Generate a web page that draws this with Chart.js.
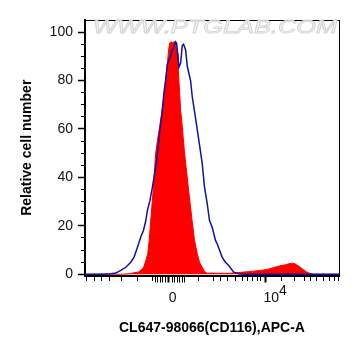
<!DOCTYPE html>
<html>
<head>
<meta charset="utf-8">
<script src="https://cdn.jsdelivr.net/npm/chart.js@4.4.1/dist/chart.umd.min.js"></script>
<style>
  html, body { margin: 0; padding: 0; background: #ffffff; }
  canvas { display: block; }
</style>
</head>
<body>
<canvas id="c" width="361" height="356"></canvas>
<script>
// Display channel positions (0..255 across the biexponential APC-A axis)
// Red filled histogram: CL647-98066 (CD116) stained sample
const sampleX = [0, 36, 44, 49, 54, 57, 59, 61, 63, 64.5, 66, 68.7, 71, 73, 75, 76.5, 77.5, 79.3, 81, 82.7, 84, 85, 86.5, 88, 89.5, 90.5, 91.5, 92.7, 93.3, 94.3, 95.3, 96, 97.5, 98.5, 100, 103.7, 107.5, 110, 112.7, 115, 117.7, 120, 122.7, 126, 136, 144, 149, 154, 159, 164, 169, 176, 183, 188, 193, 197, 201, 205, 208, 211, 214, 216, 219, 222, 225, 228, 231, 255];
const sampleY = [0, 0, 0.2, 0.6, 1.0, 2.0, 3.0, 5.5, 8.6, 14, 22, 36, 50, 56, 61, 65, 68, 73, 80, 87, 92.7, 95.5, 96, 95.6, 96, 95.8, 94, 91.3, 87, 80, 73, 67.8, 62, 57, 50, 36, 22.3, 14, 8.6, 5, 2.9, 1.2, 0.4, 0.5, 0.4, 0.4, 0.5, 0.7, 0.9, 1.1, 1.3, 1.6, 2.0, 2.6, 3.2, 3.6, 3.9, 4.4, 4.6, 4.3, 3.5, 2.9, 2.0, 1.1, 0.5, 0.1, 0, 0];

// Blue outline: control
const controlX = [0, 16, 26, 31, 36, 41, 46, 49.3, 52.7, 56, 58.7, 61, 62.7, 65.3, 67.7, 71, 72.7, 74.3, 75.3, 76.7, 77.7, 79.3, 81, 82.7, 84.3, 86, 87.7, 89.3, 91, 92, 93.3, 94.3, 96, 97.7, 99, 101, 102.7, 104.3, 106, 107.7, 109.3, 111, 114.3, 117.7, 120, 122.7, 125, 128, 131, 132.7, 137.7, 141, 144.3, 149.3, 154.3, 159.3, 255];
const controlY = [0, 0, 0.2, 0.5, 1.6, 2.9, 5, 7.1, 11.2, 15.4, 18.1, 22, 26.4, 30.6, 36, 44.3, 49.9, 56, 60, 64.5, 68, 75, 80.2, 86.8, 88.5, 89.9, 92.7, 94, 96, 95.4, 89.9, 85.5, 87.2, 94.5, 95, 92.7, 86, 83, 80, 73.3, 69, 64.5, 55.4, 45.8, 36, 29.2, 22.3, 19, 14, 12.6, 7.1, 5, 3.6, 0.9, 0.2, 0, 0];

// X-axis tick positions (biexponential display) and labels
const xMinorTicks = [2, 9.5, 17, 25, 37, 53, 68, 114, 129, 136, 143.3, 151, 158.3, 162.7, 167.7, 172.7, 176, 197.7, 210.3, 220, 226, 232.7, 239.3, 245, 250.3, 254.3];
const xClusterTicks = [70.5, 73, 75.5, 78, 80.5, 87.5, 90, 92.5, 95, 97.5, 100];
const xMajorTicks = [84, 181];
const xMajorLabels = [['', '0'], ['       4', ' 10']];

// Y-axis ticks
const yTicks = [0, 5, 10, 15, 20, 25, 30, 35, 40, 45, 50, 55, 60, 65, 70, 75, 80, 85, 90, 95, 100];
const yLabelTicks = [0, 20, 40, 60, 80, 100];

const xTitle = 'CL647-98066(CD116),APC-A';
const yTitle = 'Relative cell number';
const watermark = 'WWW.PTGLAB.COM';

const toPoints = (xs, ys) => xs.map((x, i) => ({ x: x, y: ys[i] }));
const FONT = '"Liberation Sans", Arial, Helvetica, sans-serif';

const watermarkPlugin = {
  id: 'watermark',
  afterDraw(chart) {
    const ctx = chart.ctx;
    ctx.save();
    ctx.font = 'italic 18px ' + FONT;
    const w = ctx.measureText(watermark).width;
    const targetW = 244;
    ctx.translate(93, 33);
    ctx.scale(targetW / w, 1);
    ctx.textBaseline = 'alphabetic';
    ctx.textAlign = 'left';
    ctx.fillStyle = 'rgba(248,248,248,0.9)';
    ctx.fillText(watermark, 0, 0);
    ctx.strokeStyle = '#d2d2d2';
    ctx.lineWidth = 0.8;
    ctx.strokeText(watermark, 0, 0);
    ctx.restore();
  }
};

const allXTicks = xMinorTicks.concat(xClusterTicks, xMajorTicks).sort((a, b) => a - b);

new Chart(document.getElementById('c'), {
  type: 'line',
  data: {
    datasets: [
      {
        label: 'Control',
        data: toPoints(controlX, controlY),
        borderColor: '#12129e',
        borderWidth: 1.5,
        pointRadius: 0,
        fill: false,
        tension: 0
      },
      {
        label: 'CL647-98066',
        data: toPoints(sampleX, sampleY),
        borderColor: '#ff0000',
        backgroundColor: '#ff0000',
        borderWidth: 1,
        pointRadius: 0,
        fill: 'origin',
        tension: 0
      }
    ]
  },
  options: {
    responsive: false,
    devicePixelRatio: 1,
    animation: false,
    layout: { padding: { top: 20, right: 22, bottom: 15.6, left: 15 } },
    plugins: { legend: { display: false }, tooltip: { enabled: false } },
    scales: {
      x: {
        type: 'linear',
        position: 'bottom',
        min: 0,
        max: 255,
        afterBuildTicks(scale) {
          scale.ticks = allXTicks.map(v => ({ value: v }));
        },
        ticks: {
          autoSkip: false,
          maxRotation: 0,
          minRotation: 0,
          padding: 5.5,
          labelOffset: 4,
          color: '#111111',
          font: { family: FONT, size: 14, lineHeight: 0.5 },
          callback(value) {
            const i = xMajorTicks.indexOf(value);
            return i >= 0 ? xMajorLabels[i] : '';
          }
        },
        grid: {
          display: true,
          drawOnChartArea: false,
          drawTicks: true,
          tickLength: 7,
          tickColor: '#000000',
          tickWidth(ctx) {
            const v = ctx.tick ? ctx.tick.value : null;
            return xMajorTicks.indexOf(v) >= 0 ? 2 : 1;
          },
          tickBorderDash(ctx) {
            const v = ctx.tick ? ctx.tick.value : null;
            if (xMajorTicks.indexOf(v) >= 0) return [];
            if (xClusterTicks.indexOf(v) >= 0) return [6, 100];
            return [4, 100];
          }
        },
        border: { display: true, color: '#000000', width: 2 },
        title: {
          display: true,
          text: xTitle,
          color: '#000000',
          font: { family: FONT, size: 14, weight: 'bold', lineHeight: 1.2 },
          padding: { top: 12.1, bottom: 4 }
        }
      },
      xTop: {
        type: 'linear',
        position: 'top',
        display: true,
        ticks: { display: false },
        grid: { display: true, drawOnChartArea: false, drawTicks: false },
        border: { display: true, color: '#000000', width: 1 }
      },
      y: {
        type: 'linear',
        position: 'left',
        min: -0.5,
        max: 105,
        afterBuildTicks(scale) {
          scale.ticks = yTicks.map(v => ({ value: v }));
        },
        ticks: {
          autoSkip: false,
          padding: 5,
          color: '#111111',
          font: { family: FONT, size: 14 },
          callback(value) {
            return yLabelTicks.indexOf(value) >= 0 ? String(value) : '';
          }
        },
        grid: {
          display: true,
          drawOnChartArea: false,
          drawTicks: true,
          tickLength: 7,
          tickColor: '#000000',
          tickWidth(ctx) {
            const v = ctx.tick ? ctx.tick.value : null;
            return yLabelTicks.indexOf(v) >= 0 ? 1.5 : 1;
          },
          tickBorderDash(ctx) {
            const v = ctx.tick ? ctx.tick.value : null;
            if (yLabelTicks.indexOf(v) >= 0) return [];
            return [0, 3, 4, 100];
          }
        },
        border: { display: true, color: '#000000', width: 2 },
        title: {
          display: true,
          text: yTitle,
          color: '#000000',
          font: { family: FONT, size: 14, weight: 'bold', lineHeight: 1.2 },
          padding: { top: 4, bottom: 8.8 }
        }
      },
      yRight: {
        type: 'linear',
        position: 'right',
        display: true,
        ticks: { display: false },
        grid: { display: true, drawOnChartArea: false, drawTicks: false },
        border: { display: true, color: '#000000', width: 1 }
      }
    }
  },
  plugins: [watermarkPlugin]
});
</script>
</body>
</html>
